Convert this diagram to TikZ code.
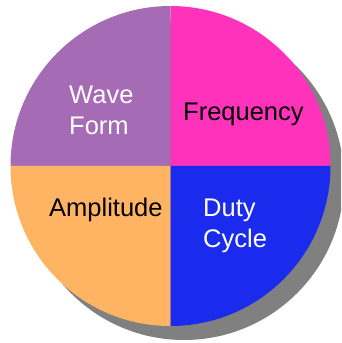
\documentclass[tikz,border=0pt]{standalone}
\usepackage{fontspec}
\setmainfont{Liberation Sans}
\definecolor{qpurple}{RGB}{166,107,181}
\definecolor{qmagenta}{RGB}{255,51,187}
\definecolor{qorange}{RGB}{255,180,100}
\definecolor{qblue}{RGB}{26,43,238}
\definecolor{qshadow}{RGB}{128,128,128}
\begin{document}
\begin{tikzpicture}[x=1pt,y=1pt,
  lbl/.style={inner sep=0pt,anchor=base west,font=\fontsize{25.5}{31.5}\selectfont,align=left}]
\useasboundingbox (0,0) rectangle (341,343);
\begin{scope}
\clip (0,0) rectangle (341,343);
\fill[qshadow] (184,163) circle[radius=160];
\end{scope}
\coordinate (c) at (170.5,177);
\fill[qpurple] (c) -- ++(-160,0) arc[start angle=180,end angle=90,radius=160] -- cycle;
\fill[qmagenta] (c) -- ++(0,160) arc[start angle=90,end angle=0,radius=160] -- cycle;
\fill[qorange] (c) -- ++(-160,0) arc[start angle=180,end angle=270,radius=160] -- cycle;
\fill[qblue] (c) -- ++(160,0) arc[start angle=0,end angle=-90,radius=160] -- cycle;
\node[lbl,text=white] (wave) at (69,208) {Wave\\Form};
\node[lbl,text=black] (freq) at (183,222) {Frequency};
\node[lbl,text=black] (amp) at (49,126) {Amplitude};
\node[lbl,text=white] (duty) at (203,95) {Duty\\Cycle};
\end{tikzpicture}
\end{document}
